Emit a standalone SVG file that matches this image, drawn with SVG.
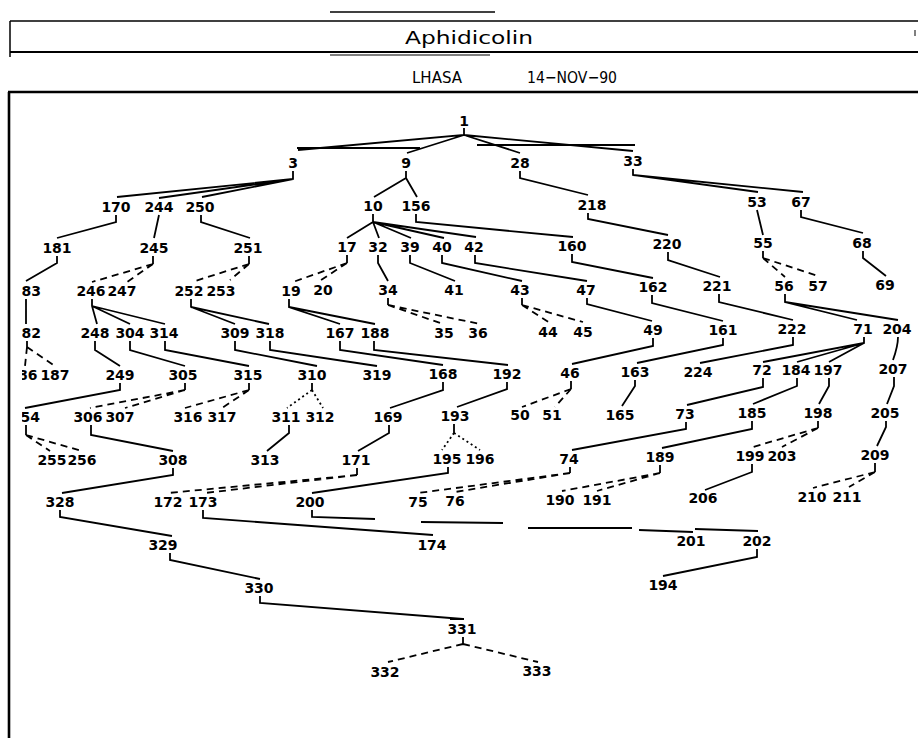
<svg xmlns="http://www.w3.org/2000/svg" width="918" height="738" viewBox="0 0 918 738">
<style>
.l{font-family:"DejaVu Sans",sans-serif;font-weight:bold;font-size:14px;text-anchor:middle;fill:#000}
.h{font-family:"DejaVu Sans Condensed","DejaVu Sans",sans-serif;font-stretch:condensed;fill:#000;text-anchor:middle}
.e{stroke:#000;stroke-width:1.8;fill:none}
.d{stroke:#000;stroke-width:1.8;fill:none;stroke-dasharray:7 5}
.o{stroke:#000;stroke-width:1.8;fill:none;stroke-dasharray:2 3}
.f{stroke:#000;fill:none}
</style>
<defs><clipPath id="cl"><rect x="22" y="0" width="896" height="738"/></clipPath></defs>
<rect width="918" height="738" fill="#fff"/>
<g id="frame">
<line class="f" x1="330" y1="12" x2="495" y2="12" stroke-width="1.5"/>
<line class="f" x1="10" y1="21" x2="918" y2="21" stroke-width="1.5"/>
<line class="f" x1="10" y1="52" x2="918" y2="52" stroke-width="2"/>
<line class="f" x1="330" y1="55" x2="490" y2="55" stroke-width="1.2"/>
<line class="f" x1="10" y1="21" x2="10" y2="57" stroke-width="1.5"/>
<line class="f" x1="915" y1="30" x2="915" y2="36" stroke-width="1"/>
<line class="f" x1="8" y1="92" x2="918" y2="92" stroke-width="2.6"/>
<line class="f" x1="9" y1="92" x2="9" y2="738" stroke-width="2.6"/>
<text class="h" x="469" y="44" font-size="17" textLength="128" lengthAdjust="spacingAndGlyphs">Aphidicolin</text>
<text class="h" x="437" y="83" font-size="16" textLength="50" lengthAdjust="spacingAndGlyphs">LHASA</text>
<text class="h" x="572" y="83" font-size="16" textLength="90" lengthAdjust="spacingAndGlyphs">14−NOV−90</text>
</g>
<g id="connectors">
<path class="e" d="M464,128V135L298,150M464,135L407,153M464,135L520,153M464,135L633,151M297,148H420M477,145H635"/>
<path class="e" d="M293,171V179L117,197M293,179L159,198M293,179L202,197"/>
<path class="e" d="M406,171V178L374,197M406,178L417,197"/>
<path class="e" d="M520,171V178L588,195"/>
<path class="e" d="M633,169V175L758,192M633,175L803,192"/>
<path class="e" d="M116,215V222L57,238M159,215L154,238M201,215V222L250,238"/>
<path class="e" d="M373,214V222L347,238M373,222L379,238M373,222L411,238M373,222L444,238M373,222L476,237"/>
<path class="e" d="M416,214V222L573,237M588,213V219L668,235M757,210L763,235M801,210V217L863,233"/>
<path class="e" d="M57,256V263L26,281M153,256V264M249,256V264M347,255V263M378,255V263L388,281M410,255V263L455,281M442,255V263L522,281M475,255V263L587,281"/>
<path class="d" d="M153,264L92,282M153,264L127,282M249,264L192,282M249,264L230,280M347,263L293,282M347,263L318,282"/>
<path class="e" d="M572,254V262L653,278M668,252V260L720,277M763,251V258M863,251V258L886,276"/>
<path class="d" d="M763,258L785,277M763,258L818,276"/>
<path class="e" d="M26,299V324M92,299V306L97,324M92,306L130,324M92,306L165,324M191,299V307L235,324M191,307L269,324M289,299V307L340,324M289,307L375,324"/>
<path class="e" d="M388,298V305M522,298V305M587,298V304L652,321M652,295V303L723,321M719,294V302L793,320M785,294V302L857,320M785,302L898,320"/>
<path class="d" d="M388,305L443,324M388,305L480,324M522,305L550,323M522,305L583,322"/>
<path class="e" d="M27,341V347"/>
<path class="d" d="M27,347L25,366M27,347L55,366"/>
<path class="e" d="M95,341V350L120,366M130,341V350L185,366M165,341V350L249,366M235,341V350L317,366M270,341V350L377,366M340,341V350L443,365M374,341V350L508,365"/>
<path class="e" d="M653,338V346L572,364M723,338V345L637,363M793,337V345L700,363M864,337V343L763,362M864,343L797,362M864,343L829,362M898,337Q898,346 893,360"/>
<path class="e" d="M120,383V390L25,408M185,383V390M249,383V390M312,383V390M443,382V390L390,408M507,382V389L457,407M571,381V389"/>
<path class="d" d="M185,390L90,408M185,390L125,408M249,390L185,408M249,390L222,408M571,389L522,407M571,389L555,407"/>
<path class="o" d="M312,390L287,408M312,390L323,408"/>
<path class="e" d="M635,380V386L622,406M763,378V387L687,405M797,378V386L753,404M829,378V386L819,404M894,377V386L887,404"/>
<path class="e" d="M26,425V435M91,425V435L173,451M289,425V433L267,451M389,425V433L358,451M454,424V433"/>
<path class="d" d="M26,435L50,451M26,435L82,451"/>
<path class="o" d="M454,433L442,450M454,433L480,450"/>
<path class="e" d="M686,422V429L572,450M752,421V429L662,448M818,421V428M886,421V427L877,446"/>
<path class="d" d="M818,428L753,447M818,428L782,447"/>
<path class="e" d="M173,468V475L62,493M357,468V475M448,467V473L312,493M570,467V473M660,465V473M752,464V472L705,490M875,463V472"/>
<path class="d" d="M357,475L168,493M357,475L205,493M570,473L418,493M570,473L455,492M660,473L562,491M660,473L597,491M875,472L813,488M875,472L849,487"/>
<path class="e" d="M60,510V517L172,536M203,510V518L433,535M312,510V517L375,519M421,522L503,523M639,530L693,532M695,529L758,531"/>
<path class="e" d="M528,528H632" stroke-width="2.4"/>
<path class="e" d="M757,549V557L663,576M170,553V560L260,579M260,596V603L463,619M450,619H464M463,637V644"/>
<path class="d" d="M463,644L388,662M463,644L538,662"/>
</g>
<g id="nodes">
<g id="n1"><text class="l" x="464" y="126">1</text></g>
<g id="n3"><text class="l" x="293" y="168">3</text></g>
<g id="n9"><text class="l" x="406" y="168">9</text></g>
<g id="n28"><text class="l" x="520" y="168">28</text></g>
<g id="n33"><text class="l" x="633" y="166">33</text></g>
<g id="n170"><text class="l" x="116" y="212">170</text></g>
<g id="n244"><text class="l" x="159" y="212">244</text></g>
<g id="n250"><text class="l" x="200" y="212">250</text></g>
<g id="n10"><text class="l" x="373" y="211">10</text></g>
<g id="n156"><text class="l" x="416" y="211">156</text></g>
<g id="n218"><text class="l" x="592" y="210">218</text></g>
<g id="n53"><text class="l" x="757" y="207">53</text></g>
<g id="n67"><text class="l" x="801" y="207">67</text></g>
<g id="n181"><text class="l" x="57" y="253">181</text></g>
<g id="n245"><text class="l" x="154" y="253">245</text></g>
<g id="n251"><text class="l" x="248" y="253">251</text></g>
<g id="n17"><text class="l" x="347" y="252">17</text></g>
<g id="n32"><text class="l" x="378" y="252">32</text></g>
<g id="n39"><text class="l" x="410" y="252">39</text></g>
<g id="n40"><text class="l" x="442" y="252">40</text></g>
<g id="n42"><text class="l" x="474" y="252">42</text></g>
<g id="n160"><text class="l" x="572" y="251">160</text></g>
<g id="n220"><text class="l" x="667" y="249">220</text></g>
<g id="n55"><text class="l" x="763" y="248">55</text></g>
<g id="n68"><text class="l" x="862" y="248">68</text></g>
<g id="n183"><text class="l" x="26.5" y="296" clip-path="url(#cl)">183</text></g>
<g id="n246"><text class="l" x="91" y="296">246</text></g>
<g id="n247"><text class="l" x="122" y="296">247</text></g>
<g id="n252"><text class="l" x="189" y="296">252</text></g>
<g id="n253"><text class="l" x="221" y="296">253</text></g>
<g id="n19"><text class="l" x="291" y="296">19</text></g>
<g id="n20"><text class="l" x="323" y="295">20</text></g>
<g id="n34"><text class="l" x="388" y="295">34</text></g>
<g id="n41"><text class="l" x="454" y="295">41</text></g>
<g id="n43"><text class="l" x="520" y="295">43</text></g>
<g id="n47"><text class="l" x="586" y="295">47</text></g>
<g id="n162"><text class="l" x="653" y="292">162</text></g>
<g id="n221"><text class="l" x="717" y="291">221</text></g>
<g id="n56"><text class="l" x="784" y="291">56</text></g>
<g id="n57"><text class="l" x="818" y="291">57</text></g>
<g id="n69"><text class="l" x="885" y="290">69</text></g>
<g id="n182"><text class="l" x="26.5" y="338" clip-path="url(#cl)">182</text></g>
<g id="n248"><text class="l" x="95" y="338">248</text></g>
<g id="n304"><text class="l" x="130" y="338">304</text></g>
<g id="n314"><text class="l" x="164" y="338">314</text></g>
<g id="n309"><text class="l" x="235" y="338">309</text></g>
<g id="n318"><text class="l" x="270" y="338">318</text></g>
<g id="n167"><text class="l" x="340" y="338">167</text></g>
<g id="n188"><text class="l" x="375" y="338">188</text></g>
<g id="n35"><text class="l" x="444" y="338">35</text></g>
<g id="n36"><text class="l" x="478" y="338">36</text></g>
<g id="n44"><text class="l" x="548" y="337">44</text></g>
<g id="n45"><text class="l" x="583" y="337">45</text></g>
<g id="n49"><text class="l" x="653" y="335">49</text></g>
<g id="n161"><text class="l" x="723" y="335">161</text></g>
<g id="n222"><text class="l" x="792" y="334">222</text></g>
<g id="n71"><text class="l" x="863" y="334">71</text></g>
<g id="n204"><text class="l" x="897" y="334">204</text></g>
<g id="n186"><text class="l" x="23" y="380" clip-path="url(#cl)">186</text></g>
<g id="n187"><text class="l" x="55" y="380">187</text></g>
<g id="n249"><text class="l" x="120" y="380">249</text></g>
<g id="n305"><text class="l" x="183" y="380">305</text></g>
<g id="n315"><text class="l" x="248" y="380">315</text></g>
<g id="n310"><text class="l" x="312" y="380">310</text></g>
<g id="n319"><text class="l" x="377" y="380">319</text></g>
<g id="n168"><text class="l" x="443" y="379">168</text></g>
<g id="n192"><text class="l" x="507" y="379">192</text></g>
<g id="n46"><text class="l" x="570" y="378">46</text></g>
<g id="n163"><text class="l" x="635" y="377">163</text></g>
<g id="n224"><text class="l" x="698" y="377">224</text></g>
<g id="n72"><text class="l" x="762" y="375">72</text></g>
<g id="n184"><text class="l" x="796" y="375">184</text></g>
<g id="n197"><text class="l" x="828" y="375">197</text></g>
<g id="n207"><text class="l" x="893" y="374">207</text></g>
<g id="n254"><text class="l" x="25.5" y="422" clip-path="url(#cl)">254</text></g>
<g id="n306"><text class="l" x="88" y="422">306</text></g>
<g id="n307"><text class="l" x="120" y="422">307</text></g>
<g id="n316"><text class="l" x="188" y="422">316</text></g>
<g id="n317"><text class="l" x="222" y="422">317</text></g>
<g id="n311"><text class="l" x="286" y="422">311</text></g>
<g id="n312"><text class="l" x="320" y="422">312</text></g>
<g id="n169"><text class="l" x="388" y="422">169</text></g>
<g id="n193"><text class="l" x="455" y="421">193</text></g>
<g id="n50"><text class="l" x="520" y="420">50</text></g>
<g id="n51"><text class="l" x="552" y="420">51</text></g>
<g id="n165"><text class="l" x="620" y="420">165</text></g>
<g id="n73"><text class="l" x="685" y="419">73</text></g>
<g id="n185"><text class="l" x="752" y="418">185</text></g>
<g id="n198"><text class="l" x="818" y="418">198</text></g>
<g id="n205"><text class="l" x="885" y="418">205</text></g>
<g id="n255"><text class="l" x="52" y="465">255</text></g>
<g id="n256"><text class="l" x="82" y="465">256</text></g>
<g id="n308"><text class="l" x="173" y="465">308</text></g>
<g id="n313"><text class="l" x="265" y="465">313</text></g>
<g id="n171"><text class="l" x="356" y="465">171</text></g>
<g id="n195"><text class="l" x="447" y="464">195</text></g>
<g id="n196"><text class="l" x="480" y="464">196</text></g>
<g id="n74"><text class="l" x="569" y="464">74</text></g>
<g id="n189"><text class="l" x="660" y="462">189</text></g>
<g id="n199"><text class="l" x="750" y="461">199</text></g>
<g id="n203"><text class="l" x="782" y="461">203</text></g>
<g id="n209"><text class="l" x="875" y="460">209</text></g>
<g id="n328"><text class="l" x="60" y="507">328</text></g>
<g id="n172"><text class="l" x="168" y="507">172</text></g>
<g id="n173"><text class="l" x="203" y="507">173</text></g>
<g id="n200"><text class="l" x="310" y="507">200</text></g>
<g id="n75"><text class="l" x="418" y="507">75</text></g>
<g id="n76"><text class="l" x="455" y="506">76</text></g>
<g id="n190"><text class="l" x="560" y="505">190</text></g>
<g id="n191"><text class="l" x="597" y="505">191</text></g>
<g id="n206"><text class="l" x="703" y="503">206</text></g>
<g id="n210"><text class="l" x="812" y="502">210</text></g>
<g id="n211"><text class="l" x="847" y="502">211</text></g>
<g id="n329"><text class="l" x="163" y="550">329</text></g>
<g id="n174"><text class="l" x="432" y="550">174</text></g>
<g id="n201"><text class="l" x="691" y="546">201</text></g>
<g id="n202"><text class="l" x="757" y="546">202</text></g>
<g id="n330"><text class="l" x="259" y="593">330</text></g>
<g id="n194"><text class="l" x="663" y="590">194</text></g>
<g id="n331"><text class="l" x="462" y="634">331</text></g>
<g id="n332"><text class="l" x="385" y="677">332</text></g>
<g id="n333"><text class="l" x="537" y="676">333</text></g>
</g>
</svg>
